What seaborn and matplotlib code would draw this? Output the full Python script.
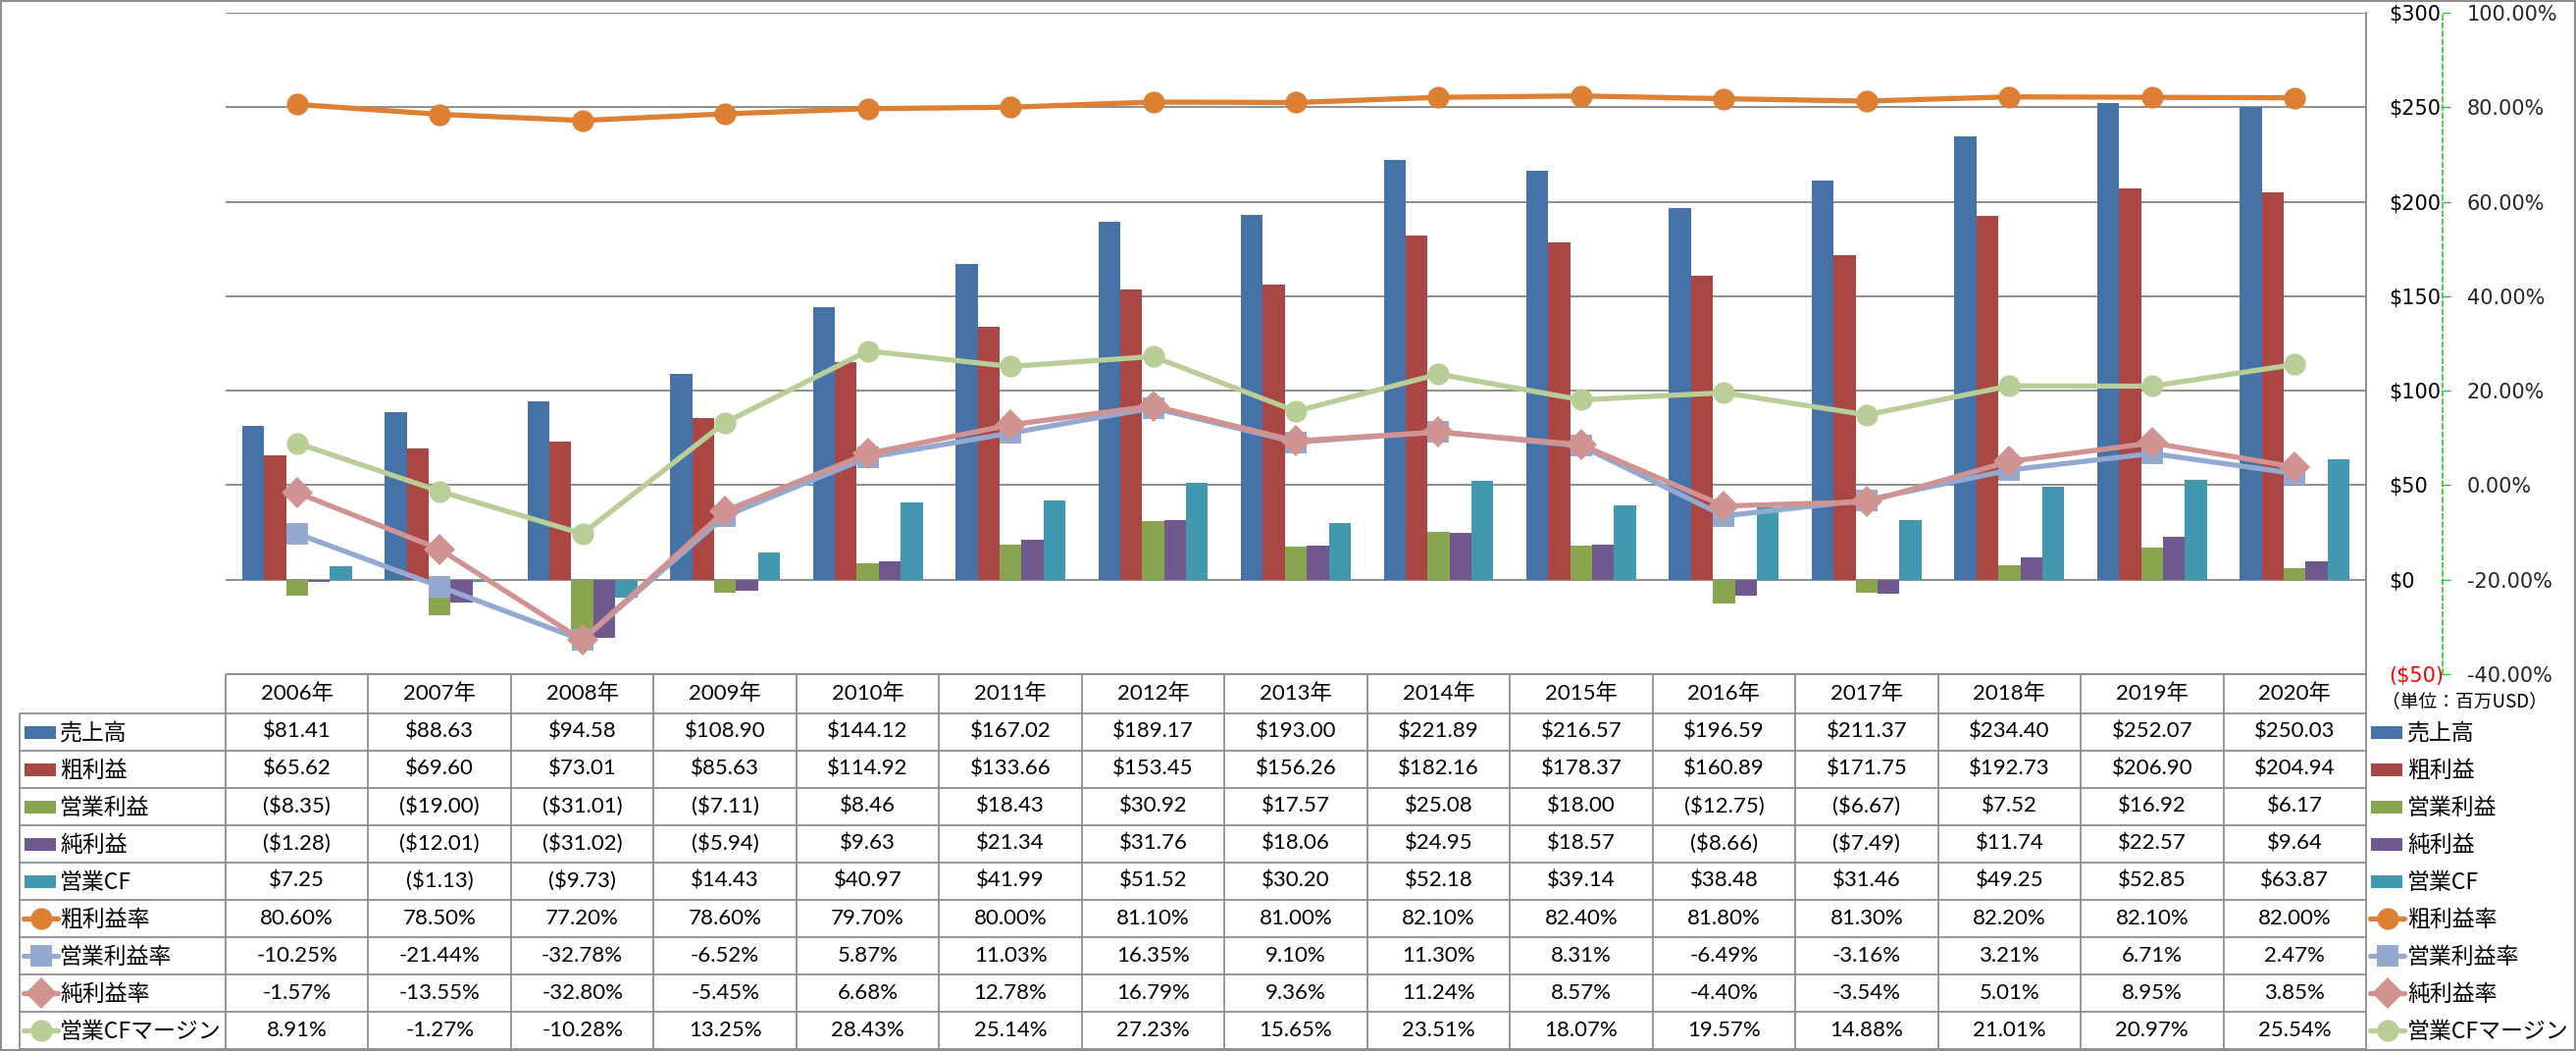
import numpy as np
import pandas as pd
import matplotlib
matplotlib.use("Agg")
import matplotlib.pyplot as plt
import seaborn as sns
from matplotlib import font_manager
from matplotlib.patches import Rectangle
from matplotlib.lines import Line2D

# ---------------- data ----------------
years = ["2006年", "2007年", "2008年", "2009年", "2010年", "2011年", "2012年", "2013年",
         "2014年", "2015年", "2016年", "2017年", "2018年", "2019年", "2020年"]
sales = [81.41, 88.63, 94.58, 108.90, 144.12, 167.02, 189.17, 193.00, 221.89, 216.57,
         196.59, 211.37, 234.40, 252.07, 250.03]
gross = [65.62, 69.60, 73.01, 85.63, 114.92, 133.66, 153.45, 156.26, 182.16, 178.37,
         160.89, 171.75, 192.73, 206.90, 204.94]
op_income = [-8.35, -19.00, -31.01, -7.11, 8.46, 18.43, 30.92, 17.57, 25.08, 18.00,
             -12.75, -6.67, 7.52, 16.92, 6.17]
net_income = [-1.28, -12.01, -31.02, -5.94, 9.63, 21.34, 31.76, 18.06, 24.95, 18.57,
              -8.66, -7.49, 11.74, 22.57, 9.64]
op_cf = [7.25, -1.13, -9.73, 14.43, 40.97, 41.99, 51.52, 30.20, 52.18, 39.14,
         38.48, 31.46, 49.25, 52.85, 63.87]
gross_margin = [80.60, 78.50, 77.20, 78.60, 79.70, 80.00, 81.10, 81.00, 82.10, 82.40,
                81.80, 81.30, 82.20, 82.10, 82.00]
op_margin = [-10.25, -21.44, -32.78, -6.52, 5.87, 11.03, 16.35, 9.10, 11.30, 8.31,
             -6.49, -3.16, 3.21, 6.71, 2.47]
net_margin = [-1.57, -13.55, -32.80, -5.45, 6.68, 12.78, 16.79, 9.36, 11.24, 8.57,
              -4.40, -3.54, 5.01, 8.95, 3.85]
cf_margin = [8.91, -1.27, -10.28, 13.25, 28.43, 25.14, 27.23, 15.65, 23.51, 18.07,
             19.57, 14.88, 21.01, 20.97, 25.54]

bar_names = ["売上高", "粗利益", "営業利益", "純利益", "営業CF"]
bar_values = [sales, gross, op_income, net_income, op_cf]
bar_colors = ["#4572A7", "#AA4643", "#89A54E", "#71588F", "#4198AF"]

line_names = ["粗利益率", "営業利益率", "純利益率", "営業CFマージン"]
line_values = [gross_margin, op_margin, net_margin, cf_margin]
line_colors = ["#DE8033", "#93A9CF", "#D19392", "#B9CD96"]
line_markers = ["o", "s", "D", "o"]

usd_ticks = [-50, 0, 50, 100, 150, 200, 250, 300]
pct_ticks = [-40, -20, 0, 20, 40, 60, 80, 100]
unit_label = "（単位：百万USD）"

# ---------------- fonts ----------------
avail = {f.name for f in font_manager.fontManager.ttflist}
CJK = "Noto Sans CJK JP"
NUM = "Lato" if "Lato" in avail else "DejaVu Sans"
sns.set_theme(style="white")
plt.rcParams["font.family"] = ["DejaVu Sans", CJK]

# ---------------- layout (pixels) ----------------
W, H = 2626, 1071
PL, PR, PT, PB = 230, 2412, 13, 687
CW = (PR - PL) / len(years)
HDR_B = 727
RH = 38
TB = HDR_B + RH * 9
GRID = "#868686"
TGRID = "#8E8E8E"
AX2C = "#22CC22"

fig = plt.figure(figsize=(W / 100, H / 100), dpi=100)
fig.patch.set_facecolor("white")

ax_bg = fig.add_axes([0, 0, 1, 1])
ax_bg.set_xlim(0, W)
ax_bg.set_ylim(H, 0)
ax_bg.axis("off")

ax = fig.add_axes([PL / W, 1 - PB / H, (PR - PL) / W, (PB - PT) / H])
ax.patch.set_alpha(0)

# ---------------- bars ----------------
rows = []
for name, vals in zip(bar_names, bar_values):
    for y, v in zip(years, vals):
        rows.append({"年": y, "値": v, "系列": name})
df = pd.DataFrame(rows)
sns.barplot(data=df, x="年", y="値", hue="系列", hue_order=bar_names, order=years,
            palette=bar_colors, width=0.769, errorbar=None, linewidth=0,
            saturation=1, legend=False, ax=ax)

# ---------------- lines ----------------
ax2 = ax.twinx()
xs = np.arange(len(years))
for name, vals, c, m in zip(line_names, line_values, line_colors, line_markers):
    sns.lineplot(x=xs, y=vals, ax=ax2, color=c, marker=m, markersize=16,
                 markeredgewidth=0, linewidth=3.8, legend=False)

# primary ($) axis, shown on the right
ax.set_xlim(-0.5, len(years) - 0.5)
ax.set_ylim(-50, 300)
ax.set_xticks([])
ax.set_xlabel("")
ax.set_ylabel("")
ax.yaxis.tick_right()
ax.yaxis.set_label_position("right")
ax.set_yticks(usd_ticks,
              labels=[(f"${t}" if t >= 0 else f"(${-t})") for t in usd_ticks])
ax.tick_params(axis="y", length=0, pad=16.5, labelsize=15, right=True, left=False,
               labelright=True, labelleft=False)
for lbl, t in zip(ax.get_yticklabels(), usd_ticks):
    lbl.set_color("red" if t < 0 else "black")
ax.yaxis.grid(True, color=GRID, lw=1.3)
ax.set_axisbelow(True)
for s in ["left", "top", "bottom"]:
    ax.spines[s].set_visible(False)
ax.spines["right"].set_color(GRID)
ax.spines["right"].set_linewidth(1.3)

# secondary (%) axis
ax2.set_ylim(-40, 100)
ax2.set_xlim(-0.5, len(years) - 0.5)
ax2.set_ylabel("")
ax2.set_xlabel("")
ax2.set_yticks(pct_ticks, labels=[f"{t:.2f}%" for t in pct_ticks])
ax2.tick_params(axis="y", length=6, width=1, color=AX2C, pad=12, labelsize=15,
                direction="out")
for lbl, t in zip(ax2.get_yticklabels(), pct_ticks):
    lbl.set_color("red" if t < 0 else "black")
for s in ["left", "top", "bottom"]:
    ax2.spines[s].set_visible(False)
ax2.spines["right"].set_position(("outward", 56))
ax2.spines["right"].set_color(AX2C)
ax2.spines["right"].set_linestyle((0, (3, 2)))
ax2.spines["right"].set_linewidth(1.2)
ax2.grid(False)

# ---------------- data table ----------------
def money(v):
    return f"${v:,.2f}" if v >= 0 else f"(${-v:,.2f})"

def pct(v):
    return f"{v:.2f}%"

lw_t = 1.3
ax_bg.hlines(PB, PL, PR, color=TGRID, lw=lw_t)
ax_bg.hlines([HDR_B + RH * i for i in range(10)], 20, PR, color=TGRID, lw=lw_t)
ax_bg.vlines([PL + CW * i for i in range(len(years) + 1)], PB, TB, color=TGRID, lw=lw_t)
ax_bg.vlines(20, HDR_B, TB, color=TGRID, lw=lw_t)

for i, y in enumerate(years):
    ax_bg.text(PL + CW * (i + 0.5), (PB + HDR_B) / 2, y, ha="center", va="center",
               fontsize=16, family=[NUM, CJK], color="black")

all_names = bar_names + line_names
all_vals = bar_values + line_values
fmts = [money] * 5 + [pct] * 4
for r, (vals, f) in enumerate(zip(all_vals, fmts)):
    yc = HDR_B + RH * (r + 0.5)
    for i, v in enumerate(vals):
        ax_bg.text(PL + CW * (i + 0.5), yc, f(v), ha="center", va="center",
                   fontsize=16, family=[NUM, CJK], color="black")


def legend_key(x0, yc, r):
    if r < 5:
        ax_bg.add_patch(Rectangle((x0, yc - 6.5), 32, 13, color=bar_colors[r], lw=0))
    else:
        k = r - 5
        ax_bg.add_line(Line2D([x0 - 1, x0 + 34], [yc, yc], color=line_colors[k], lw=3.8))
        ax_bg.add_line(Line2D([x0 + 16.5], [yc], color=line_colors[k],
                              marker=line_markers[k], markersize=16, markeredgewidth=0,
                              linestyle="none"))


for r, name in enumerate(all_names):
    yc = HDR_B + RH * (r + 0.5)
    legend_key(25, yc, r)
    ax_bg.text(61, yc + 1, name, ha="left", va="center", fontsize=16.5,
               family=[CJK], color="black")
    legend_key(2417, yc, r)
    ax_bg.text(2454, yc + 1, name, ha="left", va="center", fontsize=16.5,
               family=[CJK], color="black")

ax_bg.text(2428, 715, unit_label, ha="left", va="center", fontsize=13.5,
           family=[CJK], color="black")

# outer frame
ax_bg.add_patch(Rectangle((0.5, 0.5), W - 1.5, H - 1.5, fill=False, ec=TGRID, lw=1.5,
                          clip_on=False))

fig.savefig("out.png", dpi=100)
